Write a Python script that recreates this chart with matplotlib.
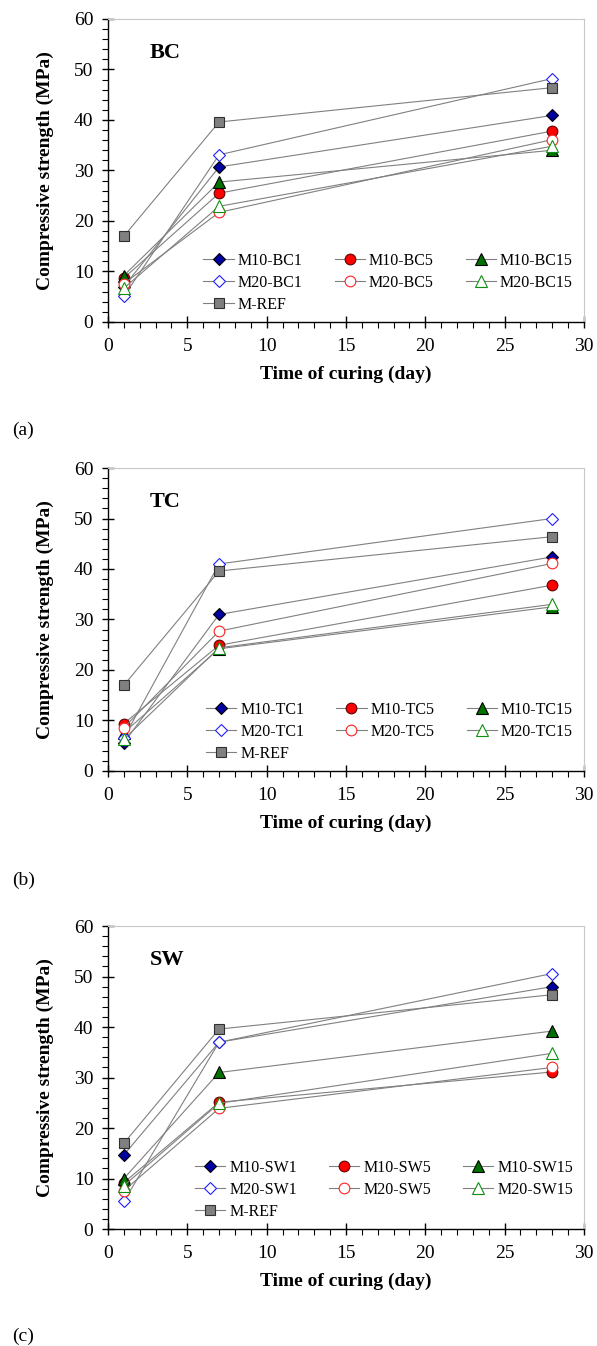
import matplotlib
matplotlib.use('Agg')
import matplotlib.pyplot as plt
from matplotlib.ticker import MultipleLocator

plt.rcParams['font.family'] = ['Liberation Serif', 'DejaVu Serif']
plt.rcParams['font.size'] = 14

LINE = '#808080'
EDGE_LIGHT = '#c8c8c8'

days = [1, 7, 28]

# BC series (MPa)
bc_m10_1 = [7.0, 30.7, 40.9]
bc_m10_5 = [8.7, 25.5, 37.8]
bc_m10_15 = [9.2, 27.7, 34.0]
bc_m20_1 = [5.1, 33.1, 48.2]
bc_m20_5 = [7.6, 21.7, 36.1]
bc_m20_15 = [6.7, 22.9, 34.8]

# TC series (MPa)
tc_m10_1 = [5.6, 31.0, 42.4]
tc_m10_5 = [9.4, 24.9, 36.8]
tc_m10_15 = [7.6, 24.2, 32.5]
tc_m20_1 = [6.6, 41.0, 50.0]
tc_m20_5 = [8.6, 27.7, 41.1]
tc_m20_15 = [6.3, 24.4, 33.0]

# SW series (MPa)
sw_m10_1 = [14.7, 37.0, 48.0]
sw_m10_5 = [9.2, 25.1, 31.1]
sw_m10_15 = [10.0, 31.0, 39.2]
sw_m20_1 = [5.5, 37.0, 50.6]
sw_m20_5 = [7.6, 23.9, 32.0]
sw_m20_15 = [8.6, 24.9, 34.8]

# reference mix, same in all panels
m_ref = [17.0, 39.6, 46.4]

panels = [
    ('BC', '(a)', [bc_m10_1, bc_m10_5, bc_m10_15, bc_m20_1, bc_m20_5, bc_m20_15]),
    ('TC', '(b)', [tc_m10_1, tc_m10_5, tc_m10_15, tc_m20_1, tc_m20_5, tc_m20_15]),
    ('SW', '(c)', [sw_m10_1, sw_m10_5, sw_m10_15, sw_m20_1, sw_m20_5, sw_m20_15]),
]

# marker styles: (name pattern, marker, size, face, edge)
styles = [
    ('M10-{}1', 'D', 6.5, '#0000a0', 'black'),
    ('M10-{}5', 'o', 7.7, '#ff0000', '#600000'),
    ('M10-{}15', '^', 8.0, '#007000', 'black'),
    ('M20-{}1', 'D', 6.5, 'white', '#2020ff'),
    ('M20-{}5', 'o', 7.7, 'white', '#ff2020'),
    ('M20-{}15', '^', 8.0, 'white', '#109010'),
]

fig = plt.figure(figsize=(5.97, 13.46), dpi=100)
fig.patch.set_facecolor('white')

axes_rects = [
    [0.181, 0.7608, 0.797, 0.2251],
    [0.181, 0.4272, 0.797, 0.2251],
    [0.181, 0.0869, 0.797, 0.2251],
]
tag_y = [0.680, 0.346, 0.0075]

for (code, tag, series), rect, ty in zip(panels, axes_rects, tag_y):
    ax = fig.add_axes(rect)
    handles = {}
    for vals, (name, mk, ms, fc, ec) in zip(series, styles):
        h, = ax.plot(days, vals, color=LINE, lw=0.8, marker=mk, ms=ms,
                     mfc=fc, mec=ec, mew=0.8, label=name.format(code))
        handles[name] = h
    h_ref, = ax.plot(days, m_ref, color=LINE, lw=0.8, marker='s', ms=6.8,
                     mfc='#808080', mec='#303030', mew=0.8, label='M-REF')

    # column-major order so rows read M10 / M20 / REF
    order = [handles['M10-{}1'], handles['M20-{}1'], h_ref,
             handles['M10-{}5'], handles['M20-{}5'],
             handles['M10-{}15'], handles['M20-{}15']]
    ax.legend(handles=order, ncol=3, frameon=False, fontsize=11.5,
              loc='lower right', bbox_to_anchor=(0.977, 0.03),
              handlelength=1.9, handletextpad=0.25, columnspacing=2.0,
              labelspacing=0.38, borderpad=0.0, borderaxespad=0.0)

    ax.set_xlim(0, 30)
    ax.set_ylim(0, 60)
    ax.xaxis.set_major_locator(MultipleLocator(5))
    ax.xaxis.set_minor_locator(MultipleLocator(1))
    ax.yaxis.set_major_locator(MultipleLocator(10))
    ax.yaxis.set_minor_locator(MultipleLocator(2))
    ax.tick_params(which='major', direction='inout', length=9, width=1.0,
                   labelsize=14)
    ax.tick_params(axis='y', which='major', pad=6)
    ax.tick_params(axis='x', which='major', pad=7)
    ax.tick_params(which='minor', direction='out', length=4, width=0.8)
    ax.tick_params(top=False, right=False)

    for side in ('left', 'bottom'):
        ax.spines[side].set_color('black')
        ax.spines[side].set_linewidth(1.0)
    for side in ('top', 'right'):
        ax.spines[side].set_color(EDGE_LIGHT)
        ax.spines[side].set_linewidth(0.8)

    ax.set_xlabel('Time of curing (day)', fontsize=14, fontweight='bold', labelpad=8)
    ax.set_ylabel('Compressive strength (MPa)', fontsize=14, fontweight='bold', labelpad=14)
    ax.text(0.088, 0.888, code, transform=ax.transAxes, fontsize=16,
            fontweight='bold', ha='left', va='center')

    fig.text(0.02, ty, tag, fontsize=14, ha='left', va='center')

plt.savefig('out.png', dpi=100, facecolor='white')
plt.close()
